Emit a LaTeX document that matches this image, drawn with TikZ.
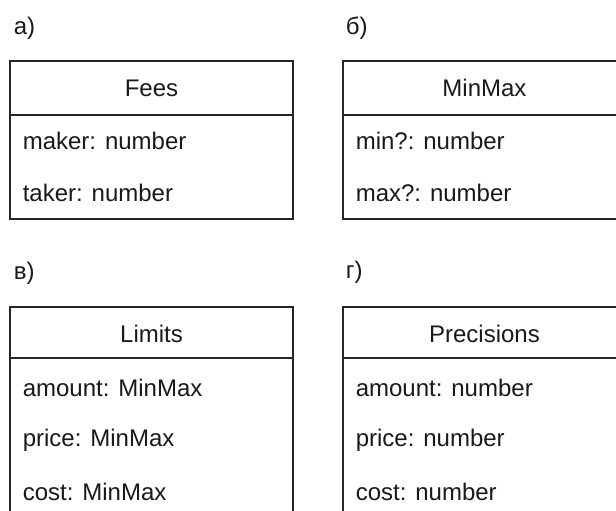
\documentclass[tikz,border=0pt]{standalone}
\usepackage{fontspec}
\setmainfont{Liberation Sans}
\begin{document}
\begin{tikzpicture}[x=1pt,y=-1pt,line width=1.6pt,
  txt/.style={inner sep=0pt,font=\fontsize{24}{28}\selectfont,text=black!90},
  lbl/.style={txt,anchor=west},
  field/.style={txt,anchor=west},
  title/.style={txt,anchor=center},
  boxline/.style={draw=black!85}]
\useasboundingbox (0,0) rectangle (616,511);
\clip (0,0) rectangle (616,511);
% a) Fees
\node[lbl] (la) at (13,28) {а)};
\draw[boxline] (10,61) rectangle (293,219);
\draw[boxline] (10,115) -- (293,115);
\node[title] (fees) at (151.5,88) {Fees};
\node[field] (maker) at (22,141) {maker: number};
\node[field] (taker) at (22,193) {taker: number};
% b) MinMax
\node[lbl] (lb) at (345,28) {б)};
\draw[boxline] (343,61) rectangle (626,219);
\draw[boxline] (343,115) -- (626,115);
\node[title] (minmax) at (484.5,88) {MinMax};
\node[field] (min) at (355,141) {min?: number};
\node[field] (max) at (355,193) {max?: number};
% v) Limits
\node[lbl] (lc) at (13,273) {в)};
\draw[boxline] (10,307) rectangle (293,516);
\draw[boxline] (10,358) -- (293,358);
\node[title] (limits) at (151.5,334) {Limits};
\node[field] (lamount) at (22,388) {amount: MinMax};
\node[field] (lprice) at (22,440) {price: MinMax};
\node[field] (lcost) at (22,492) {cost: MinMax};
% g) Precisions
\node[lbl] (ld) at (345,272) {г)};
\draw[boxline] (343,307) rectangle (626,516);
\draw[boxline] (343,358) -- (626,358);
\node[title] (prec) at (484.5,334) {Precisions};
\node[field] (pamount) at (355,388) {amount: number};
\node[field] (pprice) at (355,440) {price: number};
\node[field] (pcost) at (355,492) {cost: number};
\end{tikzpicture}
\end{document}
